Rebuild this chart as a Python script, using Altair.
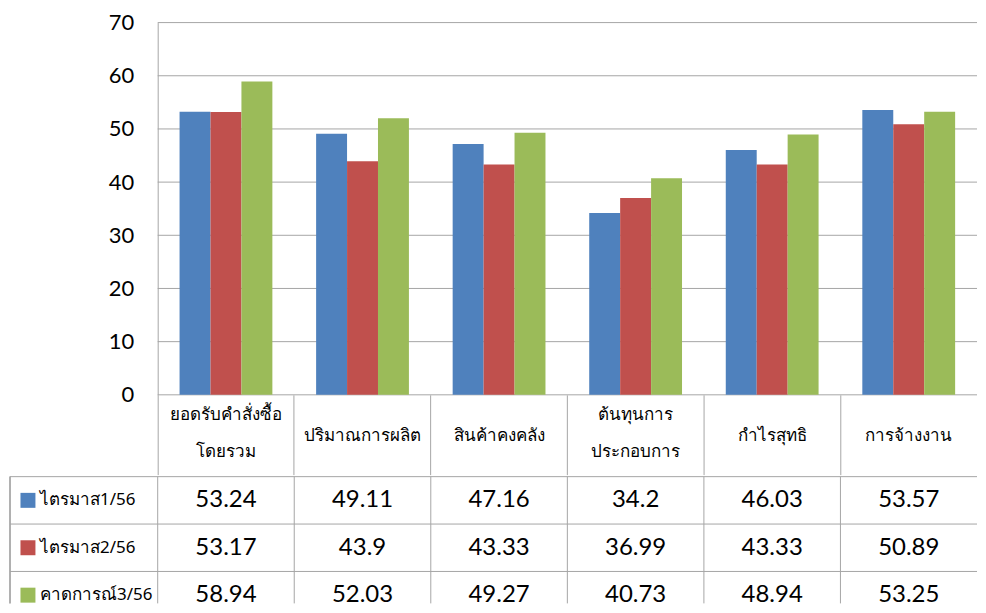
import altair as alt
import pandas as pd

categories = [
    "ยอดรับคำสั่งซื้อ\nโดยรวม",
    "ปริมาณการผลิต",
    "สินค้าคงคลัง",
    "ต้นทุนการ\nประกอบการ",
    "กำไรสุทธิ",
    "การจ้างงาน",
]
series = ["ไตรมาส1/56", "ไตรมาส2/56", "คาดการณ์3/56"]
q1 = [53.24, 49.11, 47.16, 34.2, 46.03, 53.57]
q2 = [53.17, 43.9, 43.33, 36.99, 43.33, 50.89]
q3 = [58.94, 52.03, 49.27, 40.73, 48.94, 53.25]
colors = ["#4F81BD", "#C0504D", "#9BBB59"]
y_ticks = [0, 10, 20, 30, 40, 50, 60, 70]

rows = []
for s, vals in zip(series, [q1, q2, q3]):
    for c, v in zip(categories, vals):
        rows.append({"category": c, "series": s, "value": v, "label": f"{v:g}"})
df = pd.DataFrame(rows)
lab_df = pd.DataFrame({"series": series})
cat_df = pd.DataFrame({"category": categories})
tick_df = pd.DataFrame({"tick": y_ticks})

GRID = "#A6A6A6"
FONT = "Lato"
THAI = "Noto Sans"
W = 821
LABEL_COL = 148
TABLE_H = 127

color_scale = alt.Scale(domain=series, range=colors)
x_scale = alt.Scale(paddingInner=0, paddingOuter=0)
y_scale = alt.Scale(domain=[0, 70], nice=False)
row_scale = alt.Scale(paddingInner=0, paddingOuter=0, range=[0, 142.5])

y_axis = alt.Axis(title=None, values=y_ticks, ticks=False, grid=False,
                  domainColor=GRID, labelFont=FONT, labelFontSize=22,
                  labelPadding=24, labelColor="#000000")
two_line = "indexof(datum.label, '\\n') >= 0"

grid = alt.Chart(tick_df).mark_rule(color=GRID, strokeWidth=1).encode(
    y=alt.Y("tick:Q", scale=y_scale, axis=y_axis),
)

bars = alt.Chart(df).mark_bar().encode(
    x=alt.X("category:N", sort=categories, scale=x_scale,
            axis=alt.Axis(title=None, labelAngle=0, domain=False,
                          ticks=True, tickSize=80, tickColor=GRID, bandPosition=0,
                          labelPadding={"condition": {"test": two_line, "value": -60},
                                        "value": -39},
                          labelBaseline="middle",
                          labelExpr="split(datum.label, '\\n')",
                          labelLineHeight=37, labelFont=THAI, labelFontSize=17,
                          labelColor="#000000")),
    xOffset=alt.XOffset("series:N", sort=series,
                        scale=alt.Scale(paddingInner=0, paddingOuter=0.707)),
    y=alt.Y("value:Q", scale=y_scale, axis=y_axis),
    color=alt.Color("series:N", scale=color_scale, legend=None),
)

top = alt.layer(grid, bars).properties(width=W, height=373)

# data table: grid lines, legend column (left of the plot origin) and values
row_lines = alt.Chart(lab_df).mark_rule(color=GRID, strokeWidth=1).encode(
    x=alt.value(-LABEL_COL), x2=alt.value(W),
    y=alt.Y("series:N", sort=series, scale=row_scale, axis=None, bandPosition=0),
)
col_lines = alt.Chart(cat_df).mark_rule(color=GRID, strokeWidth=1).encode(
    x=alt.X("category:N", sort=categories, scale=x_scale, axis=None, bandPosition=0),
    y=alt.value(0), y2=alt.value(TABLE_H),
)
left_line = alt.Chart(lab_df).mark_rule(color=GRID, strokeWidth=1).encode(
    x=alt.value(-LABEL_COL), y=alt.value(0), y2=alt.value(TABLE_H),
)
label_sq = alt.Chart(lab_df).mark_point(shape="square", filled=True, size=225, opacity=1).encode(
    x=alt.value(-LABEL_COL + 18),
    y=alt.Y("series:N", sort=series, axis=None),
    color=alt.Color("series:N", scale=color_scale, legend=None),
)
label_txt = alt.Chart(lab_df).mark_text(align="left", baseline="middle", font=THAI,
                                        fontSize=17, color="#000000").encode(
    x=alt.value(-LABEL_COL + 30),
    y=alt.Y("series:N", sort=series, axis=None),
    text="series:N",
)
val_txt = alt.Chart(df).mark_text(align="center", baseline="middle", font=FONT,
                                  fontSize=24, color="#000000", clip=True).encode(
    x=alt.X("category:N", sort=categories, scale=x_scale, axis=None),
    y=alt.Y("series:N", sort=series, scale=row_scale, axis=None),
    text="label:N",
)
table = alt.layer(row_lines, col_lines, left_line, label_sq, label_txt, val_txt).properties(
    width=W, height=TABLE_H)

chart = alt.vconcat(top, table, spacing=0).properties(
    padding={"left": 1, "top": 3, "right": 0, "bottom": 0},
    background="white",
).configure_view(stroke=None)

chart.save("out.html", embed_options={"renderer": "svg", "actions": False})
